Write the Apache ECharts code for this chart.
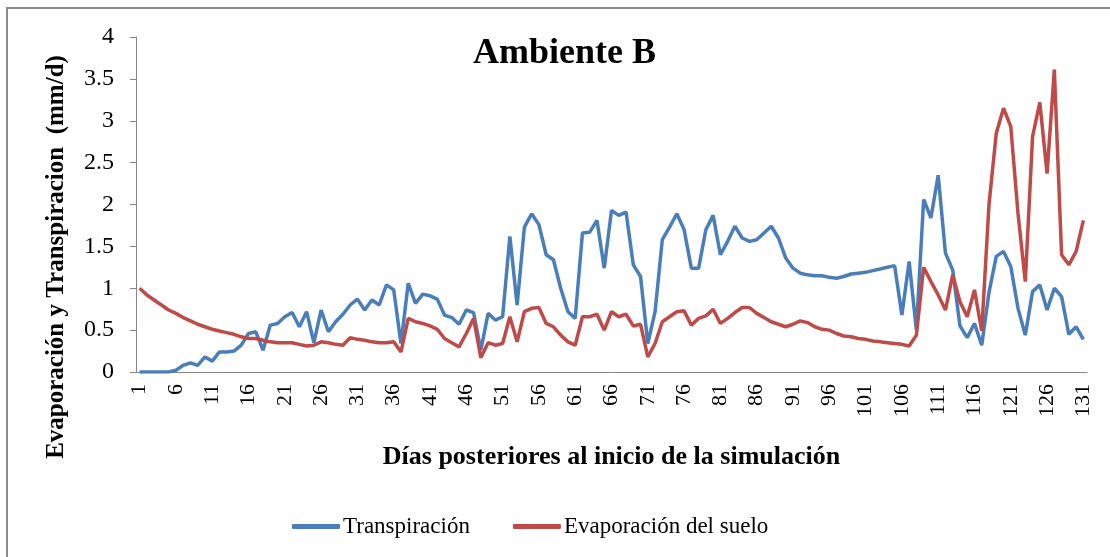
<!DOCTYPE html>
<head>
    <meta charset="utf-8">
    <title>Ambiente B</title>
    <style>
        body { margin: 0; background: #fff; }
    </style>
</head>
<body>
    <div id="main" style="width:1110px;height:557px"></div>
    <script src="https://cdn.jsdelivr.net/npm/echarts@6/dist/echarts.min.js"></script>
    <script type="text/javascript">

        // dias 1..131
        var dias = [];
        for (var i = 1; i <= 131; i++) dias.push(String(i));

        var transpiracion = [
            0, 0, 0, 0, 0, 0.02, 0.08, 0.11, 0.08, 0.18,
            0.13, 0.24, 0.24, 0.25, 0.32, 0.46, 0.48, 0.26, 0.56, 0.58,
            0.66, 0.71, 0.54, 0.72, 0.35, 0.74, 0.48, 0.6, 0.69, 0.8,
            0.87, 0.74, 0.86, 0.8, 1.04, 0.98, 0.34, 1.06, 0.82, 0.93,
            0.91, 0.87, 0.68, 0.65, 0.57, 0.74, 0.71, 0.26, 0.7, 0.62,
            0.66, 1.62, 0.8, 1.73, 1.89, 1.76, 1.4, 1.34, 1.0, 0.72,
            0.64, 1.66, 1.67, 1.81, 1.24, 1.93, 1.87, 1.91, 1.28, 1.14,
            0.34, 0.72, 1.58, 1.73, 1.89, 1.7, 1.24, 1.24, 1.7, 1.87,
            1.4, 1.56, 1.74, 1.6, 1.56, 1.58, 1.66, 1.74, 1.6, 1.36,
            1.24, 1.18, 1.16, 1.15, 1.15, 1.13, 1.12, 1.14, 1.17, 1.18,
            1.19, 1.21, 1.23, 1.25, 1.27, 0.68, 1.32, 0.5, 2.06, 1.84,
            2.35, 1.42, 1.22, 0.55, 0.41, 0.58, 0.32, 0.95, 1.38, 1.44,
            1.26, 0.76, 0.44, 0.96, 1.04, 0.74, 1.0, 0.9, 0.45, 0.54,
            0.39
        ];

        var evaporacion = [
            1.0, 0.92, 0.86, 0.8, 0.74, 0.7, 0.65, 0.61, 0.57, 0.54,
            0.51, 0.49, 0.47, 0.45, 0.42, 0.4, 0.4, 0.38, 0.36, 0.35,
            0.35, 0.35, 0.33, 0.31, 0.32, 0.36, 0.35, 0.33, 0.32, 0.41,
            0.39, 0.38, 0.36, 0.35, 0.35, 0.36, 0.24, 0.64, 0.6, 0.58,
            0.55, 0.51, 0.4, 0.35, 0.3, 0.46, 0.64, 0.17, 0.35, 0.32,
            0.34, 0.66, 0.36, 0.72, 0.76, 0.77, 0.58, 0.54, 0.44, 0.36,
            0.32, 0.66, 0.66, 0.69, 0.5, 0.72, 0.66, 0.69, 0.55, 0.57,
            0.18, 0.34, 0.6, 0.66, 0.72, 0.73, 0.56, 0.64, 0.67, 0.75,
            0.58, 0.64, 0.71, 0.77, 0.77, 0.7, 0.65, 0.6, 0.57, 0.54,
            0.57, 0.61, 0.59, 0.54, 0.51, 0.5, 0.46, 0.43, 0.42, 0.4,
            0.39, 0.37, 0.36, 0.35, 0.34, 0.33, 0.31, 0.44, 1.25, 1.08,
            0.92, 0.74, 1.16, 0.84, 0.66, 0.98, 0.49, 2.0, 2.85, 3.15,
            2.93, 1.89, 1.08, 2.81, 3.22, 2.37, 3.61, 1.4, 1.28, 1.44,
            1.81
        ];

        var serif = '"Liberation Serif", "DejaVu Serif", serif';
        var gris = '#868686';

        var myChart = echarts.init(document.getElementById('main'));

        var option = {
            animation: false,
            backgroundColor: '#fff',
            title: {
                text: 'Ambiente B',
                left: 468,
                top: 31,
                textStyle: { fontFamily: serif, fontSize: 36, fontWeight: 'bold', color: '#000' }
            },
            legend: {
                left: 287,
                top: 510,
                itemWidth: 48,
                itemHeight: 5,
                itemGap: 43,
                icon: 'roundRect',
                textStyle: { fontFamily: serif, fontSize: 23, color: '#000', padding: [0, 0, 0, -2] },
                data: [
                    { name: 'Transpiración', itemStyle: { color: '#4a7ebb' } },
                    { name: 'Evaporación del suelo', itemStyle: { color: '#be4b48' } }
                ]
            },
            grid: { left: 136, right: 23, top: 37, bottom: 185 },
            xAxis: {
                type: 'category',
                data: dias,
                boundaryGap: true,
                name: 'Días posteriores al inicio de la simulación',
                nameLocation: 'middle',
                nameGap: 72,
                nameTextStyle: { fontFamily: serif, fontSize: 26, fontWeight: 'bold', color: '#000' },
                axisLine: { lineStyle: { color: gris, width: 1 } },
                axisTick: { interval: 0, length: 5, lineStyle: { color: gris } },
                axisLabel: {
                    interval: 4,
                    rotate: 90,
                    margin: 12,
                    fontFamily: serif,
                    fontSize: 22,
                    color: '#000'
                }
            },
            yAxis: {
                type: 'value',
                min: 0,
                max: 4,
                interval: 0.5,
                axisLine: { show: true, lineStyle: { color: gris, width: 1 } },
                axisTick: { show: true, length: 6, lineStyle: { color: gris } },
                splitLine: { show: false },
                axisLabel: { margin: 22, fontFamily: serif, fontSize: 24, color: '#000' }
            },
            graphic: [
                {
                    type: 'rect',
                    shape: { x: 7, y: 8, width: 1300, height: 700 },
                    style: { fill: 'none', stroke: '#8c8c8c', lineWidth: 2 },
                    silent: true
                },
                {
                    type: 'text',
                    x: 57,
                    y: 257,
                    rotation: Math.PI / 2,
                    style: {
                        text: 'Evaporación y Transpiracion  (mm/d)',
                        fontFamily: serif,
                        fontSize: 25,
                        fontWeight: 'bold',
                        fill: '#000',
                        align: 'center',
                        verticalAlign: 'middle'
                    }
                }
            ],
            series: [
                {
                    name: 'Transpiración',
                    type: 'line',
                    data: transpiracion,
                    symbol: 'none',
                    color: '#4a7ebb',
                    lineStyle: { width: 3.5, color: '#4a7ebb' }
                },
                {
                    name: 'Evaporación del suelo',
                    type: 'line',
                    data: evaporacion,
                    symbol: 'none',
                    color: '#be4b48',
                    lineStyle: { width: 3.5, color: '#be4b48' }
                }
            ]
        };

        myChart.setOption(option);
    </script>
</body>
